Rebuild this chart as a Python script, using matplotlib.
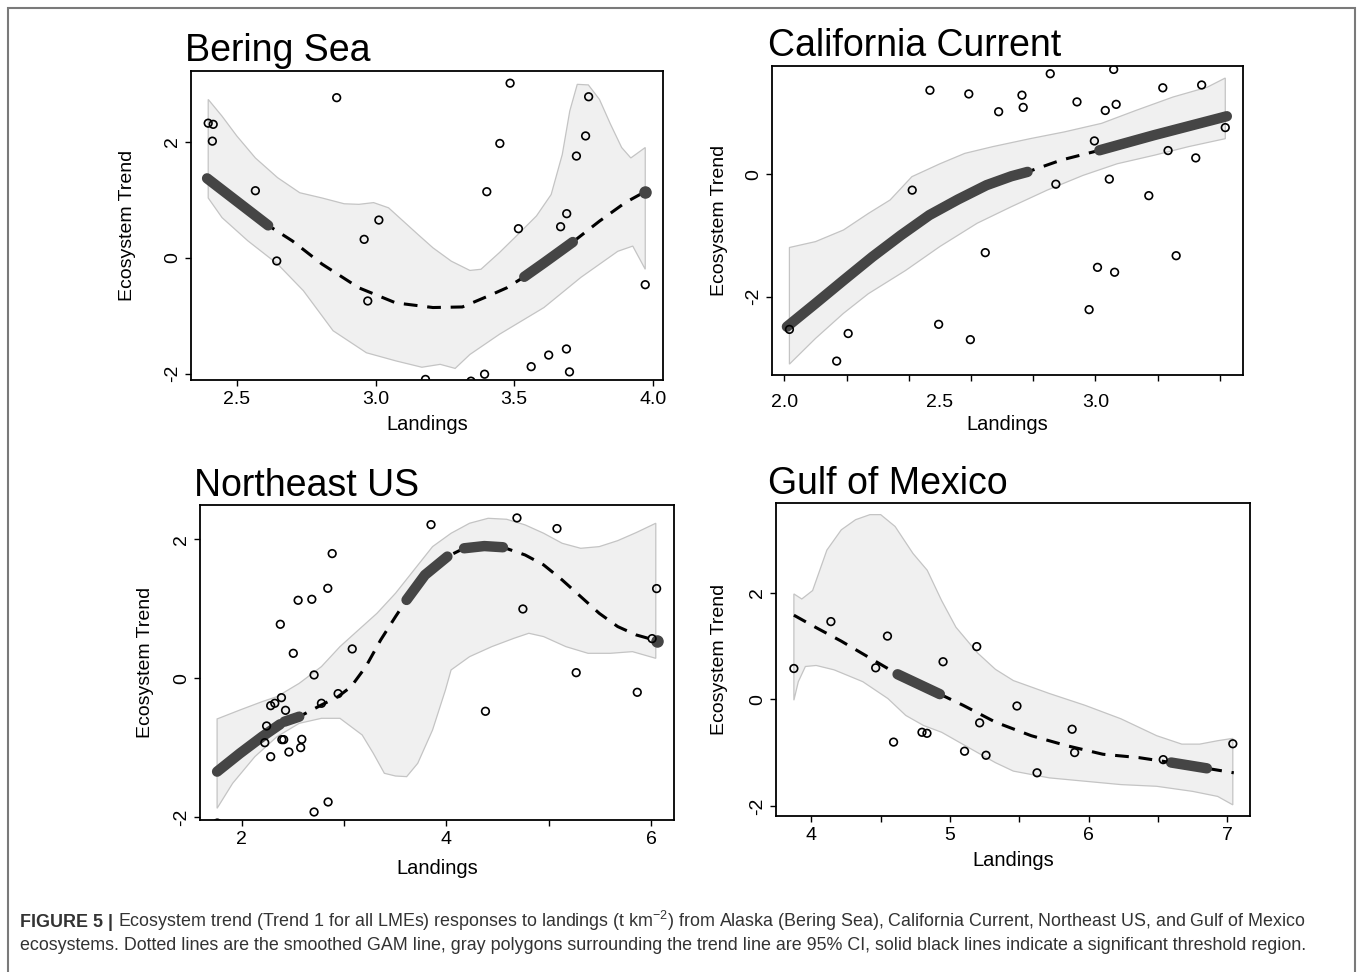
import numpy as np
import matplotlib
matplotlib.use("Agg")
import matplotlib.pyplot as plt
from matplotlib.patches import Rectangle

plt.rcParams['font.family'] = ['Liberation Sans', 'DejaVu Sans']
plt.rcParams['mathtext.fontset'] = 'custom'
plt.rcParams['mathtext.rm'] = 'Liberation Sans'
plt.rcParams['axes.unicode_minus'] = False

# ---------------- Bering Sea ----------------
bs_x = [2.397, 2.415, 2.412, 2.567, 2.644, 2.86, 2.959, 2.972, 3.012, 3.18, 3.344, 3.393, 3.401,
        3.448, 3.485, 3.515, 3.561, 3.624, 3.667, 3.688, 3.689, 3.699, 3.724, 3.757, 3.768, 3.972]
bs_y = [2.32, 2.30, 2.01, 1.155, -0.057, 2.76, 0.316, -0.747, 0.649, -2.10, -2.13, -2.01, 1.138,
        1.97, 3.01, 0.50, -1.88, -1.68, 0.534, -1.575, 0.759, -1.97, 1.753, 2.10, 2.776, -0.466]
bs_fit_x = [2.393, 2.613, 2.70, 2.807, 2.94, 3.073, 3.207, 3.313, 3.407, 3.473, 3.536, 3.607, 3.711,
            3.807, 3.90, 3.972]
bs_fit_y = [1.368, 0.557, 0.29, -0.11, -0.52, -0.78, -0.86, -0.85, -0.66, -0.52, -0.33, -0.09, 0.27,
            0.63, 0.95, 1.14]
bs_hi_x = [2.397, 2.447, 2.50, 2.567, 2.647, 2.727, 2.807, 2.887, 2.94, 2.993, 3.047, 3.10, 3.153,
           3.207, 3.273, 3.34, 3.38, 3.447, 3.513, 3.58, 3.633, 3.673, 3.70, 3.727, 3.767, 3.807,
           3.847, 3.887, 3.92, 3.972]
bs_hi_y = [2.73, 2.44, 2.10, 1.72, 1.38, 1.12, 1.03, 0.93, 0.92, 0.95, 0.86, 0.63, 0.40,
           0.17, -0.06, -0.22, -0.20, 0.09, 0.40, 0.72, 1.09, 1.78, 2.53, 2.99, 2.98, 2.73,
           2.30, 1.90, 1.72, 1.90]
bs_lo_x = [2.397, 2.447, 2.54, 2.647, 2.74, 2.847, 2.967, 3.073, 3.167, 3.233, 3.287, 3.34, 3.447,
           3.607, 3.74, 3.873, 3.927, 3.972]
bs_lo_y = [1.03, 0.69, 0.29, -0.11, -0.57, -1.26, -1.64, -1.78, -1.89, -1.84, -1.91, -1.67, -1.32,
           -0.86, -0.34, 0.11, 0.20, -0.20]
bs_sig = [([2.393, 2.613], [1.368, 0.557]),
          ([3.536, 3.607, 3.711], [-0.33, -0.09, 0.27])]
bs_dot = ([3.972], [1.14])

# ---------------- California Current ----------------
cc_x = [2.016, 2.168, 2.205, 2.411, 2.468, 2.496, 2.593, 2.598, 2.646, 2.689, 2.764, 2.768, 2.855,
        2.873, 2.941, 2.98, 2.997, 3.007, 3.032, 3.045, 3.059, 3.062, 3.067, 3.172, 3.217, 3.234,
        3.26, 3.323, 3.342, 3.418]
cc_y = [-2.533, -3.05, -2.60, -0.26, 1.37, -2.45, 1.31, -2.70, -1.28, 1.02, 1.29, 1.09, 1.64,
        -0.163, 1.18, -2.21, 0.543, -1.52, 1.04, -0.08, 1.71, -1.60, 1.14, -0.35, 1.41, 0.386,
        -1.33, 0.266, 1.456, 0.761]
cc_fit_x = [2.008, 2.100, 2.191, 2.283, 2.375, 2.466, 2.558, 2.650, 2.730, 2.782, 2.89, 3.013,
            3.188, 3.423]
cc_fit_y = [-2.489, -2.109, -1.728, -1.348, -0.995, -0.668, -0.413, -0.179, -0.033, 0.038, 0.23,
            0.39, 0.636, 0.946]
cc_hi_x = [2.016, 2.10, 2.19, 2.27, 2.34, 2.41, 2.50, 2.58, 2.67, 2.79, 2.90, 3.02, 3.13, 3.25,
           3.36, 3.418]
cc_hi_y = [-1.196, -1.10, -0.91, -0.64, -0.42, -0.04, 0.17, 0.34, 0.45, 0.58, 0.69, 0.83, 1.04,
           1.26, 1.42, 1.57]
cc_lo_x = [2.016, 2.10, 2.19, 2.27, 2.39, 2.50, 2.62, 2.73, 2.845, 2.96, 3.07, 3.19, 3.30, 3.418]
cc_lo_y = [-3.10, -2.68, -2.27, -1.95, -1.57, -1.18, -0.80, -0.53, -0.26, -0.02, 0.17, 0.31, 0.45,
           0.58]
cc_sig = [(cc_fit_x[:10], cc_fit_y[:10]),
          ([3.013, 3.188, 3.423], [0.39, 0.636, 0.946])]
cc_dot = ([], [])

# ---------------- Northeast US ----------------
ne_x = [1.76, 2.224, 2.242, 2.282, 2.282, 2.322, 2.376, 2.387, 2.391, 2.409, 2.427, 2.460, 2.503,
        2.550, 2.575, 2.586, 2.684, 2.706, 2.706, 2.778, 2.840, 2.843, 2.883, 2.941, 3.079, 3.849,
        4.381, 4.689, 4.747, 5.080, 5.268, 5.865, 6.01, 6.054]
ne_y = [-2.08, -0.925, -0.685, -0.393, -1.126, -0.359, 0.776, -0.278, -0.881, -0.881, -0.46,
        -1.059, 0.359, 1.121, -0.996, -0.877, 1.135, -1.921, 0.048, -0.359, 1.293, -1.777, 1.792,
        -0.22, 0.422, 2.208, -0.474, 2.304, 0.996, 2.151, 0.081, -0.201, 0.57, 1.289]
ne_fit_x = [1.758, 1.982, 2.199, 2.373, 2.416, 2.561, 2.778, 2.941, 3.068, 3.212, 3.357, 3.502,
            3.61, 3.79, 4.009, 4.172, 4.37, 4.552, 4.769, 4.95, 5.131, 5.312, 5.493, 5.674, 5.855,
            6.054]
ne_fit_y = [-1.341, -1.078, -0.838, -0.661, -0.623, -0.551, -0.383, -0.263, -0.12, 0.168, 0.551,
            0.886, 1.126, 1.485, 1.749, 1.868, 1.90, 1.883, 1.772, 1.629, 1.413, 1.174, 0.934,
            0.743, 0.623, 0.541]
ne_hi_x = [1.758, 1.982, 2.199, 2.344, 2.561, 2.778, 2.959, 3.14, 3.321, 3.502, 3.683, 3.864,
           4.045, 4.226, 4.407, 4.588, 4.769, 4.95, 5.131, 5.312, 5.493, 5.674, 5.855, 6.046]
ne_hi_y = [-0.584, -0.455, -0.335, -0.263, -0.072, 0.168, 0.455, 0.695, 0.934, 1.222, 1.557,
           1.892, 2.084, 2.228, 2.299, 2.285, 2.204, 2.084, 1.94, 1.868, 1.892, 1.978, 2.094,
           2.228]
ne_lo_x = [1.758, 1.91, 2.127, 2.344, 2.561, 2.778, 2.959, 3.068, 3.176, 3.285, 3.393, 3.502,
           3.611, 3.719, 3.864, 3.99, 4.045, 4.226, 4.443, 4.66, 4.805, 4.95, 5.167, 5.384, 5.601,
           5.818, 6.046]
ne_lo_y = [-1.868, -1.509, -1.126, -0.838, -0.647, -0.575, -0.575, -0.695, -0.814, -1.078,
           -1.365, -1.404, -1.413, -1.222, -0.743, -0.168, 0.12, 0.311, 0.455, 0.575, 0.647,
           0.599, 0.455, 0.359, 0.359, 0.383, 0.287]
ne_sig = [([1.758, 1.982, 2.199, 2.373], [-1.341, -1.078, -0.838, -0.661]),
          ([2.416, 2.561], [-0.623, -0.551]),
          ([3.61, 3.79, 4.009], [1.126, 1.485, 1.749]),
          ([4.172, 4.37, 4.552], [1.868, 1.90, 1.883])]
ne_dot = ([6.054], [0.541])

# ---------------- Gulf of Mexico ----------------
gm_x = [3.873, 4.14, 4.463, 4.548, 4.592, 4.797, 4.833, 4.949, 5.104, 5.192, 5.213, 5.259, 5.482,
        5.627, 5.88, 5.898, 6.537, 7.039]
gm_y = [0.576, 1.456, 0.589, 1.184, -0.804, -0.62, -0.639, 0.703, -0.975, 0.987, -0.443, -1.051,
        -0.127, -1.38, -0.563, -1.0, -1.133, -0.835]
gm_fit_x = [3.873, 4.034, 4.215, 4.422, 4.621, 4.926, 5.094, 5.327, 5.585, 5.844, 6.102, 6.361,
            6.594, 6.852, 7.046]
gm_fit_y = [1.576, 1.342, 1.089, 0.772, 0.468, 0.095, -0.114, -0.43, -0.684, -0.873, -1.032,
            -1.095, -1.187, -1.296, -1.38]
gm_hi_x = [3.873, 3.93, 4.008, 4.111, 4.215, 4.318, 4.422, 4.499, 4.603, 4.732, 4.835, 4.939,
           5.042, 5.197, 5.327, 5.456, 5.715, 5.973, 6.232, 6.49, 6.671, 6.8, 6.93, 7.039]
gm_hi_y = [1.975, 1.88, 2.038, 2.797, 3.177, 3.367, 3.462, 3.462, 3.24, 2.734, 2.418, 1.848,
           1.35, 0.87, 0.56, 0.35, 0.108, -0.114, -0.367, -0.684, -0.842, -0.842, -0.778, -0.734]
gm_lo_x = [3.873, 3.905, 3.956, 4.034, 4.163, 4.37, 4.551, 4.68, 4.809, 4.939, 5.068, 5.197,
           5.327, 5.456, 5.715, 5.973, 6.232, 6.49, 6.749, 6.93, 7.039]
gm_lo_y = [-0.019, 0.329, 0.614, 0.633, 0.551, 0.329, 0.013, -0.304, -0.494, -0.62, -0.81, -1.0,
           -1.19, -1.348, -1.475, -1.538, -1.601, -1.633, -1.728, -1.823, -1.981]
gm_sig = [([4.621, 4.926], [0.468, 0.095]),
          ([6.594, 6.852], [-1.187, -1.296])]
gm_dot = ([], [])

caption_1 = "Ecosystem trend (Trend 1 for all LMEs) responses to landings (t km$^{-2}$) from Alaska (Bering Sea), California Current, Northeast US, and Gulf of Mexico"
caption_2 = "ecosystems. Dotted lines are the smoothed GAM line, gray polygons surrounding the trend line are 95% CI, solid black lines indicate a significant threshold region."

W, H = 1360, 972
fig = plt.figure(figsize=(W / 100, H / 100), dpi=100)


def add_panel(box, title, title_xy, xlim, ylim, pts, fit, hi, lo, sig, dot, ylab_off, xlab_off):
    left, top, right, bottom = box
    ax = fig.add_axes([left / W, 1 - bottom / H, (right - left) / W, (bottom - top) / H])
    band_x = np.concatenate([hi[0], lo[0][::-1]])
    band_y = np.concatenate([hi[1], lo[1][::-1]])
    ax.fill(band_x, band_y, facecolor='#f0f0f0', edgecolor='#c4c4c4', lw=0.9, zorder=1)
    ax.plot(fit[0], fit[1], color='black', lw=2.2, dashes=(4.5, 3.2), zorder=2)
    for sx, sy in sig:
        ax.plot(sx, sy, color='#454545', lw=7.5, solid_capstyle='round', zorder=3)
    if dot[0]:
        ax.plot(dot[0], dot[1], 'o', color='#454545', ms=8, zorder=3)
    ax.scatter(pts[0], pts[1], s=30, facecolors='none', edgecolors='black', linewidths=1.2, zorder=4)
    ax.set_xlim(xlim)
    ax.set_ylim(ylim)
    for sp in ax.spines.values():
        sp.set_linewidth(1.3)
    ax.tick_params(axis='both', which='both', direction='out', length=4, width=1, labelsize=14)
    ax.tick_params(axis='x', pad=4)
    ax.tick_params(axis='y', pad=3, labelrotation=90)
    ax.set_xlabel('Landings', fontsize=14.5)
    ax.set_ylabel('Ecosystem Trend', fontsize=14)
    ax.xaxis.label.set_va('center')
    ax.yaxis.label.set_va('center')
    ax.xaxis.set_label_coords(0.5, -xlab_off / (bottom - top))
    ax.yaxis.set_label_coords(-ylab_off / (right - left), 0.5)
    fig.text(title_xy[0] / W, 1 - title_xy[1] / H, title, fontsize=27, va='baseline', ha='left')
    return ax


ax1 = add_panel((191, 71, 663, 380), 'Bering Sea', (185, 61), (2.335, 4.036), (-2.11, 3.22),
                (bs_x, bs_y), (bs_fit_x, bs_fit_y), (bs_hi_x, bs_hi_y), (bs_lo_x, bs_lo_y),
                bs_sig, bs_dot, 64, 45)
ax1.set_xticks([2.5, 3.0, 3.5, 4.0])
ax1.set_xticklabels(['2.5', '3.0', '3.5', '4.0'])
ax1.set_yticks([-2, 0, 2])

ax2 = add_panel((772, 66, 1243, 375), 'California Current', (768, 56), (1.96, 3.475), (-3.277, 1.766),
                (cc_x, cc_y), (cc_fit_x, cc_fit_y), (cc_hi_x, cc_hi_y), (cc_lo_x, cc_lo_y),
                cc_sig, cc_dot, 52, 50)
# R drew the tick marks every 0.2 but the labels only at 2.0, 2.5, 3.0
ax2.xaxis.remove_overlapping_locs = False
ax2.set_xticks([2.0, 2.5, 3.0])
ax2.set_xticklabels(['2.0', '2.5', '3.0'])
ax2.tick_params(axis='x', which='major', length=0, pad=14)
ax2.set_xticks(np.arange(2.0, 3.45, 0.2), minor=True)
ax2.set_yticks([-2, 0])

ax3 = add_panel((200, 505, 674, 820), 'Northeast US', (194, 496), (1.591, 6.224), (-2.036, 2.49),
                (ne_x, ne_y), (ne_fit_x, ne_fit_y), (ne_hi_x, ne_hi_y), (ne_lo_x, ne_lo_y),
                ne_sig, ne_dot, 54, 48)
ax3.set_xticks([2, 4, 6])
ax3.set_xticks([3, 5], minor=True)
ax3.set_yticks([-2, 0, 2])

ax4 = add_panel((776, 503, 1250, 816), 'Gulf of Mexico', (768, 494), (3.744, 7.163), (-2.19, 3.68),
                (gm_x, gm_y), (gm_fit_x, gm_fit_y), (gm_hi_x, gm_hi_y), (gm_lo_x, gm_lo_y),
                gm_sig, gm_dot, 57, 44)
ax4.set_xticks([4, 5, 6, 7])
ax4.set_xticks([4.5, 5.5, 6.5], minor=True)
ax4.set_yticks([-2, 0, 2])

for ax in (ax1, ax2, ax3, ax4):
    for lab in ax.get_yticklabels():
        lab.set_va('center')

# outer frame
fig.patches.append(Rectangle((8 / W, -0.02), 1347 / W, 1 - 8 / H + 0.02, transform=fig.transFigure,
                             fill=False, edgecolor='#7a7a7a', lw=1.5))

# caption
cap_color = '#333333'
cap_size = 12.9
t0 = fig.text(20 / W, 1 - 927 / H, 'FIGURE 5 |', fontsize=cap_size, weight='bold', color=cap_color,
              va='baseline')
renderer = fig.canvas.get_renderer()
bb = t0.get_window_extent(renderer)
fig.text((bb.x1 + 5) / W, 1 - 927 / H, caption_1, fontsize=cap_size, color=cap_color, va='baseline')
fig.text(20 / W, 1 - 950 / H, caption_2, fontsize=cap_size, color=cap_color, va='baseline')

fig.savefig('out.png', dpi=100)
